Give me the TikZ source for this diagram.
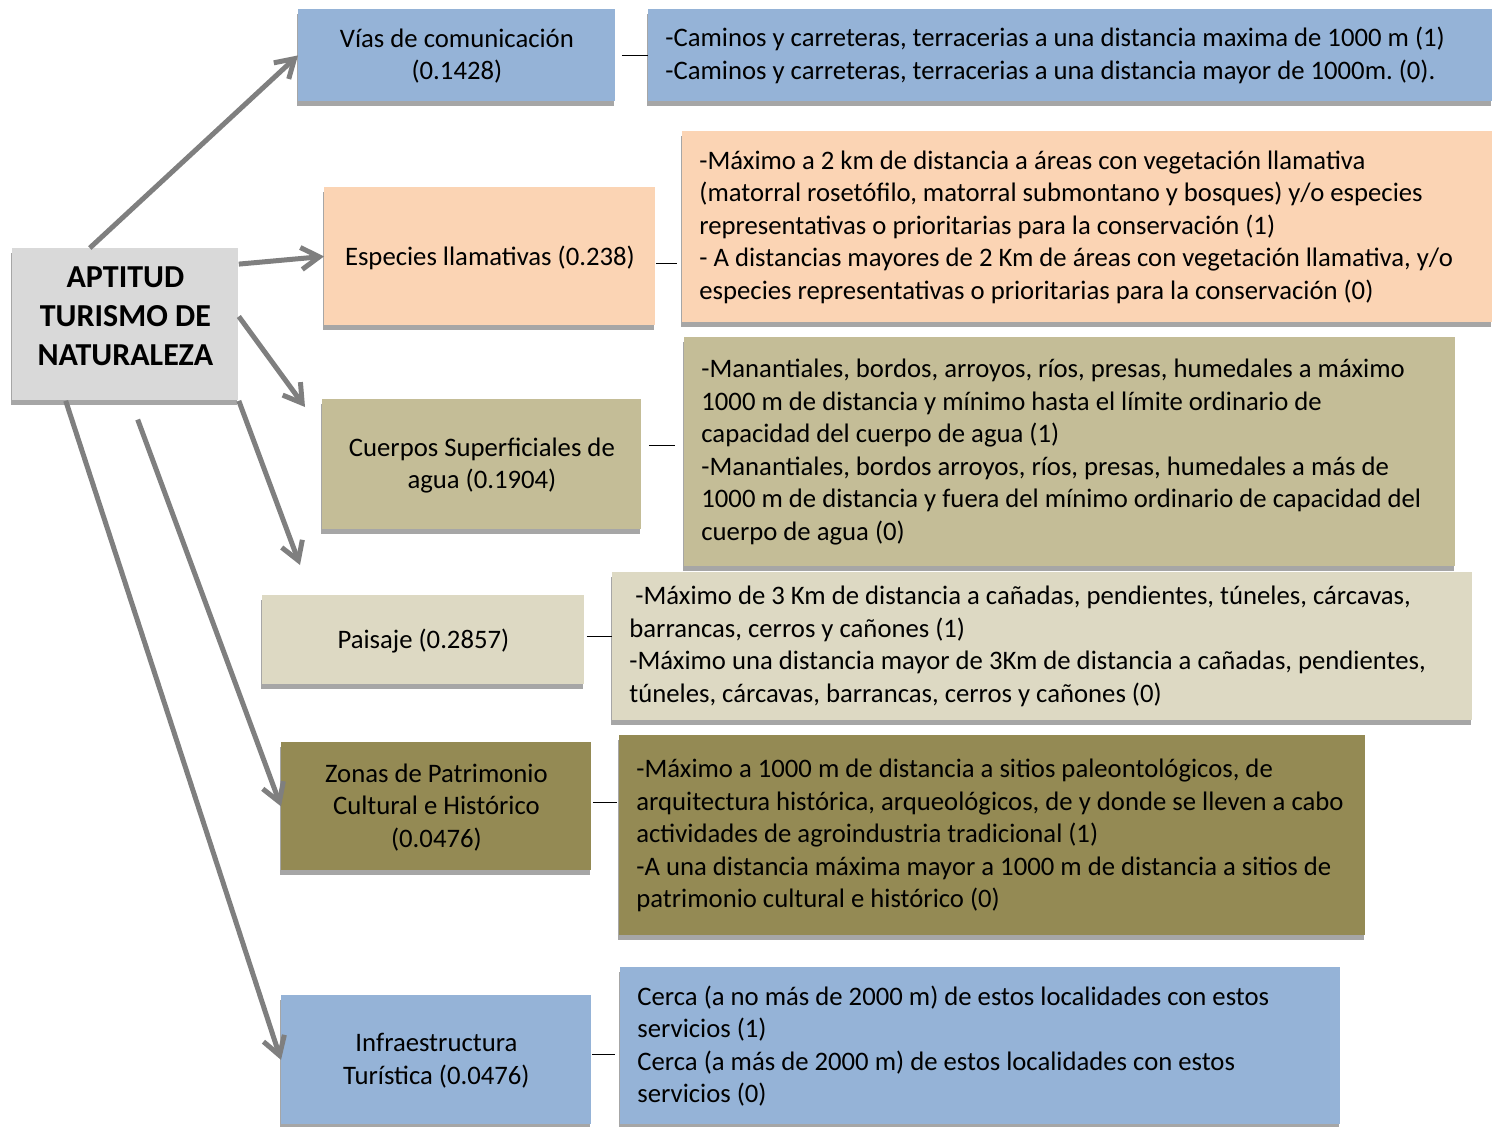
\documentclass[tikz,border=0pt]{standalone}
\usepackage{fontspec}
\setmainfont{Carlito}
\frenchspacing
\usetikzlibrary{arrows.meta,shadows}
\definecolor{rootgray}{HTML}{D9D9D9}
\definecolor{blu}{HTML}{95B3D7}
\definecolor{peach}{HTML}{FBD4B4}
\definecolor{tan}{HTML}{C4BD97}
\definecolor{sand}{HTML}{DDD9C3}
\definecolor{olive}{HTML}{948A54}
\definecolor{shade}{HTML}{A6A6A6}
\definecolor{arrgray}{HTML}{7F7F7F}

\begin{document}
\begin{tikzpicture}[
  x=0.5pt,y=-0.5pt,
  font=\fontsize{13.35}{16.25}\selectfont,
  box/.style={anchor=north west,inner ysep=0pt,
    drop shadow={shadow xshift=-0.5pt,shadow yshift=-2.5pt,fill=shade,opacity=1}},
  cat/.style={box,align=center,inner xsep=4pt,text depth=1pt},
  desc/.style={box,align=flush left,inner xsep=8.5pt},
  arr/.style={draw=arrgray,line width=2.5pt,-{Straight Barb[length=9pt,width=11pt]}},
  cn/.style={draw=black,line width=0.75pt}
]
\useasboundingbox (0,0) rectangle (1493,1126);

\node[box,fill=rootgray,minimum width=113pt,minimum height=76pt,align=center,text depth=8pt,
      font=\fontsize{16}{19.5}\selectfont\bfseries] (root) at (12,248)
  {APTITUD\\TURISMO DE\\NATURALEZA};

% factores
\node[cat,fill=blu,minimum width=158.5pt,minimum height=46pt] (vias) at (298,9)
  {Vías de comunicación\\(0.1428)};
\node[cat,fill=peach,minimum width=165.5pt,minimum height=69pt] (esp) at (324,187)
  {Especies llamativas (0.238)};
\node[cat,fill=tan,minimum width=159.5pt,minimum height=65pt] (cuer) at (322,399)
  {Cuerpos Superficiales de\\agua (0.1904)};
\node[cat,fill=sand,minimum width=161pt,minimum height=44.5pt] (pais) at (262,595)
  {Paisaje (0.2857)};
\node[cat,fill=olive,minimum width=155pt,minimum height=64pt] (zon) at (281,742)
  {Zonas de Patrimonio\\Cultural e Histórico\\(0.0476)};
\node[cat,fill=blu,minimum width=155pt,minimum height=64.5pt] (inf) at (281,995)
  {Infraestructura\\Turística (0.0476)};

% criterios
\node[desc,fill=blu,minimum width=422pt,minimum height=46pt,text width=405pt] (viasd) at (648,9)
  {-Caminos y carreteras, terracerias a una distancia maxima de 1000 m (1)\\
   -Caminos y carreteras, terracerias a una distancia mayor de 1000m. (0).};
\node[desc,fill=peach,minimum width=405pt,minimum height=95.5pt,text width=388pt] (espd) at (682,131)
  {-Máximo a 2 km de distancia a áreas con vegetación llamativa\\
   (matorral rosetófilo, matorral submontano y bosques) y/o especies\\
   representativas o prioritarias para la conservación (1)\\
   - A distancias mayores de 2 Km de áreas con vegetación llamativa, y/o\\
   especies representativas o prioritarias para la conservación (0)};
\node[desc,fill=tan,minimum width=385.5pt,minimum height=114.5pt,text width=368.5pt] (cuerd) at (684,337)
  {-Manantiales, bordos, arroyos, ríos, presas, humedales a máximo\\
   1000 m de distancia y mínimo hasta el límite ordinario de\\
   capacidad del cuerpo de agua (1)\\
   -Manantiales, bordos arroyos, ríos, presas, humedales a más de\\
   1000 m de distancia y fuera del mínimo ordinario de capacidad del\\
   cuerpo de agua (0)};
\node[desc,fill=sand,minimum width=430pt,minimum height=74pt,text width=413pt] (paisd) at (612,572)
  {\hspace*{3pt}-Máximo de 3 Km de distancia a cañadas, pendientes, túneles, cárcavas,\\
   barrancas, cerros y cañones (1)\\
   -Máximo una distancia mayor de 3Km de distancia a cañadas, pendientes,\\
   túneles, cárcavas, barrancas, cerros y cañones (0)};
\node[desc,fill=olive,minimum width=373pt,minimum height=100pt,text width=356pt] (zond) at (619,735)
  {-Máximo a 1000 m de distancia a sitios paleontológicos, de\\
   arquitectura histórica, arqueológicos, de y donde se lleven a cabo\\
   actividades de agroindustria tradicional (1)\\
   -A una distancia máxima mayor a 1000 m de distancia a sitios de\\
   patrimonio cultural e histórico (0)};
\node[desc,fill=blu,minimum width=360pt,minimum height=78.5pt,text width=343pt] (infd) at (620,967)
  {Cerca (a no más de 2000 m) de estos localidades con estos\\
   servicios (1)\\
   Cerca (a más de 2000 m) de estos localidades con estos\\
   servicios (0)};

% flechas
\coordinate (e3) at (305,407);
\coordinate (e4) at (300,565);
\draw[arr] (root.115) -- (vias.west);
\draw[arr] (root.28) -- (esp.west);
\draw[arr] (root.4) -- (e3);
\draw[arr] (root.south east) -- (e4);
\draw[arr,shorten <=10pt] (root.274) -- (zon.west);
\draw[arr] (root.232) -- (inf.west);

% guiones
\draw[cn,shorten <=3pt] (vias.east) -- (viasd.west);
\draw[cn,shorten >=2.5pt] ([yshift=-3.5pt]esp.east) -- ([yshift=-3.5pt]esp.east -| espd.west);
\draw[cn,shorten <=3.5pt,shorten >=4.5pt] ([yshift=9.5pt]cuer.east) -- ([yshift=9.5pt]cuer.east -| cuerd.west);
\draw[cn,shorten <=1pt] ([yshift=1.75pt]pais.east) -- ([yshift=1.75pt]pais.east -| paisd.west);
\draw[cn,shorten <=0.5pt,shorten >=1pt] ([yshift=2pt]zon.east) -- ([yshift=2pt]zon.east -| zond.west);
\draw[cn,shorten >=2.5pt] ([yshift=2.75pt]inf.east) -- ([yshift=2.75pt]inf.east -| infd.west);
\end{tikzpicture}
\end{document}
